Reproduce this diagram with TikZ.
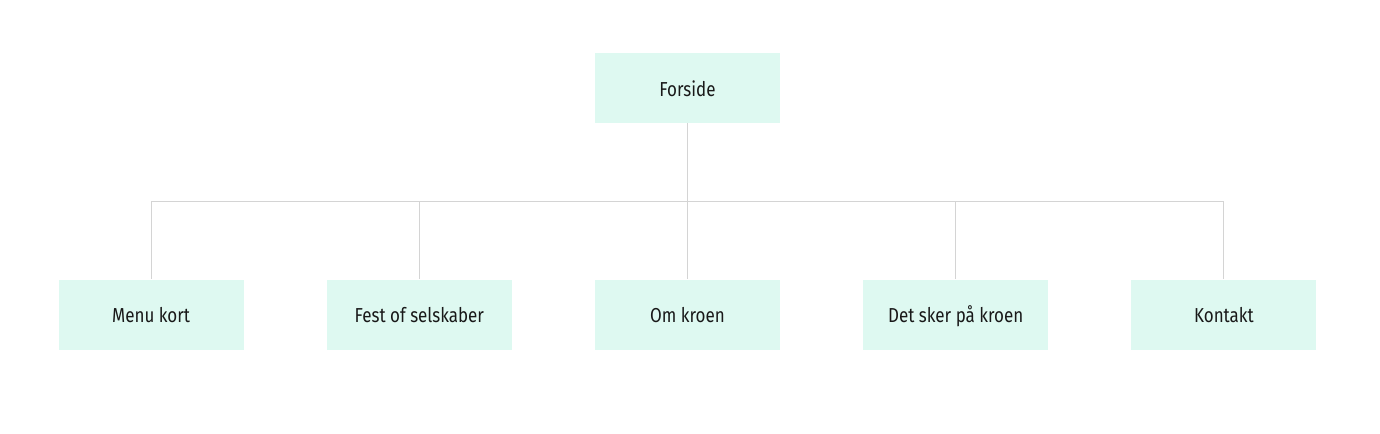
\documentclass[tikz,border=0pt]{standalone}
\usepackage{fontspec}
\setmainfont[FakeStretch=0.84]{Fira Sans}
\usetikzlibrary{positioning,calc}
\definecolor{cMint}{RGB}{222,249,241}
\definecolor{cLine}{RGB}{212,212,212}
\tikzset{
    page/.style={rectangle, minimum width=3.7cm, minimum height=1.4cm,
        fill=cMint, draw=none, font=\fontsize{11.5}{13}\selectfont,
        text=black!90, align=center, text height=1.75ex, text depth=0ex},
    conn/.style={draw=cLine, line width=0.6pt},
}
\begin{document}
\begin{tikzpicture}[node distance=3.12cm and 1.65cm]

% ================================================================
%  Canvas
% ================================================================
\useasboundingbox[fill=white] (0,0) rectangle (27.6,8.66);

% ================================================================
%  TOP — front page
% ================================================================
\node[page] (forside) at (13.75,6.9) {Forside};

% ================================================================
%  BOTTOM — sub pages (row)
% ================================================================
\node[page, below=of forside] (om) {Om kroen};
\node[page, left=of om] (fest) {Fest of selskaber};
\node[page, left=of fest] (menu) {Menu kort};
\node[page, right=of om] (sker) {Det sker på kroen};
\node[page, right=of sker] (kontakt) {Kontakt};

% ── connectors ──
\coordinate (bus) at ($(forside.south)!0.5!(om.north)$);
\draw[conn] (forside.south) -- (bus);
\foreach \child in {menu,fest,om,sker,kontakt}
    \draw[conn] (bus) -| (\child.north);

\end{tikzpicture}
\end{document}
